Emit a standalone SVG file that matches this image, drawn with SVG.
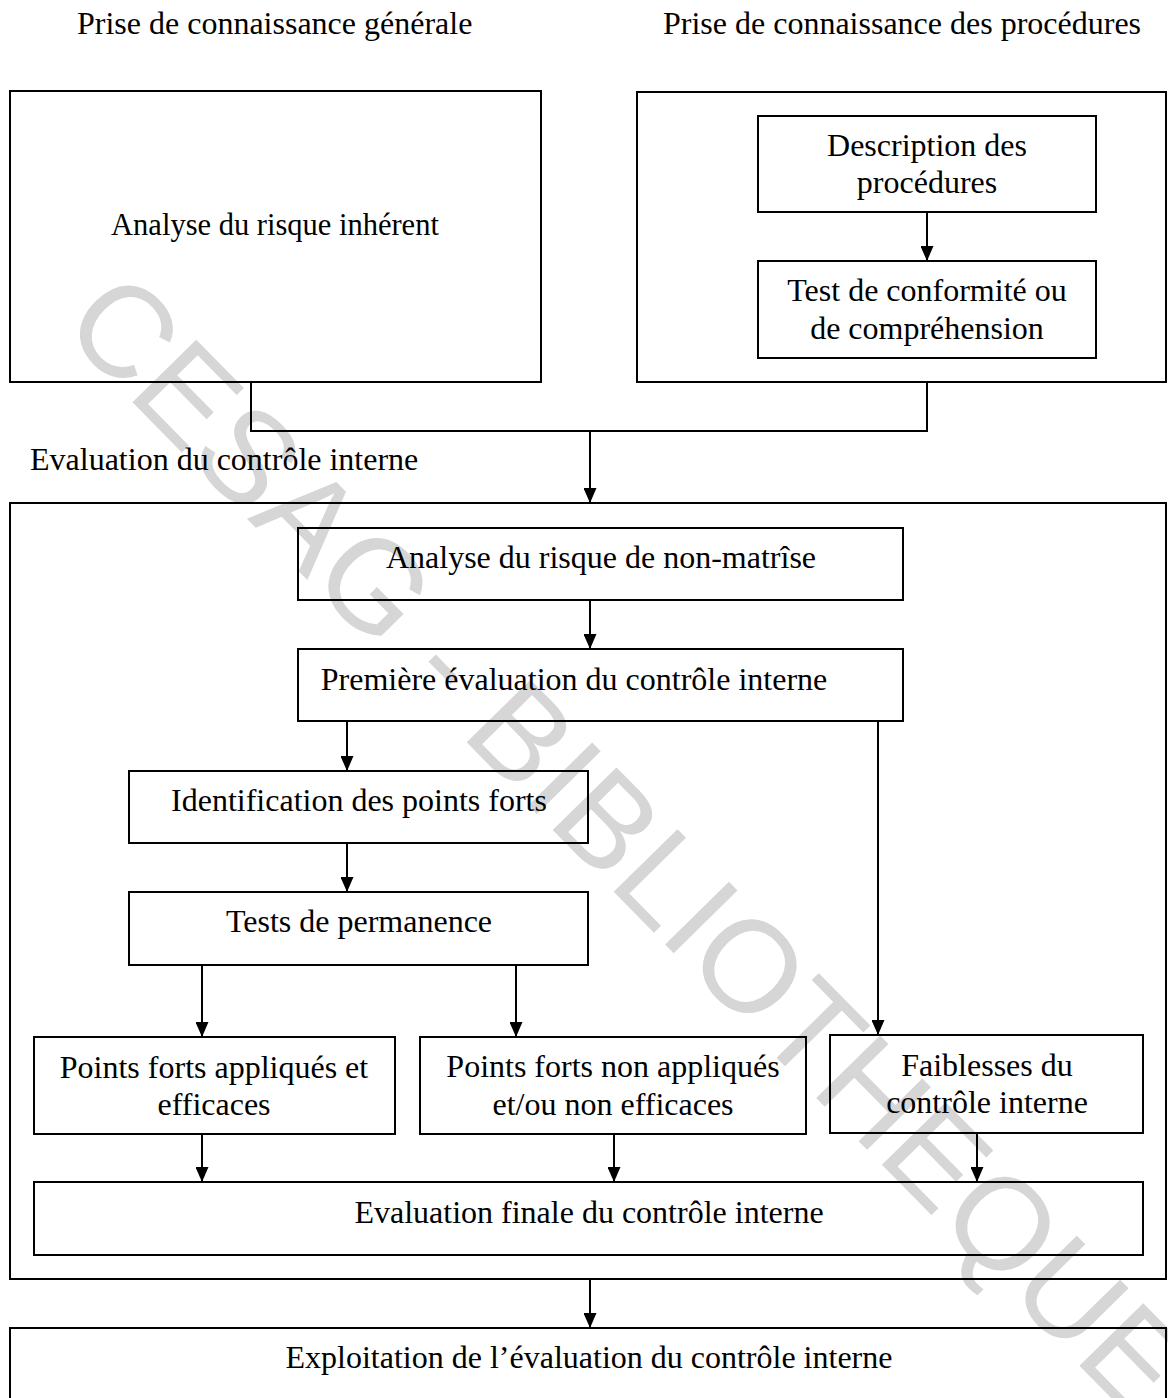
<svg xmlns="http://www.w3.org/2000/svg" width="1168" height="1398" viewBox="0 0 1168 1398">
  <style>
    .box { fill: none; stroke: #000; stroke-width: 2; }
    .lbl { font-family: "Liberation Serif", "Times New Roman", serif; font-size: 32px; fill: #000; text-anchor: middle; }
    .lbl-start { font-family: "Liberation Serif", "Times New Roman", serif; font-size: 32px; fill: #000; }
    .wire { fill: none; stroke: #000; stroke-width: 2; }
    .arrow { fill: none; stroke: #000; stroke-width: 2; marker-end: url(#head); }
    .stamp { font-family: "Liberation Sans", Arial, sans-serif; font-size: 130px; fill: #d6d6d6; text-anchor: middle; }
  </style>
  <defs>
    <marker id="head" viewBox="0 0 15 13" refX="15" refY="6.5" markerWidth="15" markerHeight="13" markerUnits="userSpaceOnUse" orient="auto">
      <path d="M0,0 L15,6.5 L0,13 z" fill="#000"/>
    </marker>
  </defs>

  <rect width="1168" height="1398" fill="#fff"/>

  <!-- library stamp across the page -->
  <text class="stamp" transform="translate(596,874) rotate(45.5)">CESAG - BIBLIOTHEQUE</text>

  <!-- section headings -->
  <text class="lbl-start" x="77" y="34">Prise de connaissance générale</text>
  <text class="lbl-start" x="663" y="34">Prise de connaissance des procédures</text>
  <text class="lbl-start" x="30" y="470">Evaluation du contrôle interne</text>

  <g id="risque-inherent">
    <rect class="box" x="10" y="91" width="531" height="291"/>
    <text class="lbl" x="275" y="235" style="font-size:30.5px">Analyse du risque inhérent</text>
  </g>

  <g id="procedures">
    <rect class="box" x="637" y="92" width="529" height="290"/>
  </g>

  <g id="description">
    <rect class="box" x="758" y="116" width="338" height="96"/>
    <text class="lbl" x="927" y="156">Description des</text>
    <text class="lbl" x="927" y="193">procédures</text>
  </g>

  <g id="test-conformite">
    <rect class="box" x="758" y="261" width="338" height="97"/>
    <text class="lbl" x="927" y="301">Test de conformité ou</text>
    <text class="lbl" x="927" y="339">de compréhension</text>
  </g>

  <g id="evaluation">
    <rect class="box" x="10" y="503" width="1156" height="776"/>
  </g>

  <g id="non-maitrise">
    <rect class="box" x="298" y="528" width="605" height="72"/>
    <text class="lbl" x="601" y="568">Analyse du risque de non-matrîse</text>
  </g>

  <g id="premiere-evaluation">
    <rect class="box" x="298" y="649" width="605" height="72"/>
    <text class="lbl" x="574" y="690">Première évaluation du contrôle interne</text>
  </g>

  <g id="points-forts">
    <rect class="box" x="129" y="771" width="459" height="72"/>
    <text class="lbl" x="359" y="811">Identification des points forts</text>
  </g>

  <g id="permanence">
    <rect class="box" x="129" y="892" width="459" height="73"/>
    <text class="lbl" x="359" y="932">Tests de permanence</text>
  </g>

  <g id="appliques">
    <rect class="box" x="34" y="1037" width="361" height="97"/>
    <text class="lbl" x="214" y="1078">Points forts appliqués et</text>
    <text class="lbl" x="214" y="1115">efficaces</text>
  </g>

  <g id="non-appliques">
    <rect class="box" x="420" y="1037" width="386" height="97"/>
    <text class="lbl" x="613" y="1077">Points forts non appliqués</text>
    <text class="lbl" x="613" y="1115">et/ou non efficaces</text>
  </g>

  <g id="faiblesses">
    <rect class="box" x="830" y="1035" width="313" height="98"/>
    <text class="lbl" x="987" y="1076">Faiblesses du</text>
    <text class="lbl" x="987" y="1113">contrôle interne</text>
  </g>

  <g id="evaluation-finale">
    <rect class="box" x="34" y="1182" width="1109" height="73"/>
    <text class="lbl" x="589" y="1223">Evaluation finale du contrôle interne</text>
  </g>

  <g id="exploitation">
    <rect class="box" x="10" y="1328" width="1156" height="90"/>
    <text class="lbl" x="589" y="1368">Exploitation de l’évaluation du contrôle interne</text>
  </g>

  <g id="connectors">
    <path class="arrow" d="M927,212 V261"/>
    <path class="wire" d="M251,382 V431 H927 V382"/>
    <path class="arrow" d="M590,431 V503"/>
    <path class="arrow" d="M590,600 V649"/>
    <path class="arrow" d="M347,721 V771"/>
    <path class="arrow" d="M878,721 V1035"/>
    <path class="arrow" d="M347,843 V892"/>
    <path class="arrow" d="M202,965 V1037"/>
    <path class="arrow" d="M516,965 V1037"/>
    <path class="arrow" d="M202,1134 V1182"/>
    <path class="arrow" d="M614,1134 V1182"/>
    <path class="arrow" d="M977,1133 V1182"/>
    <path class="arrow" d="M590,1279 V1328"/>
  </g>
</svg>
